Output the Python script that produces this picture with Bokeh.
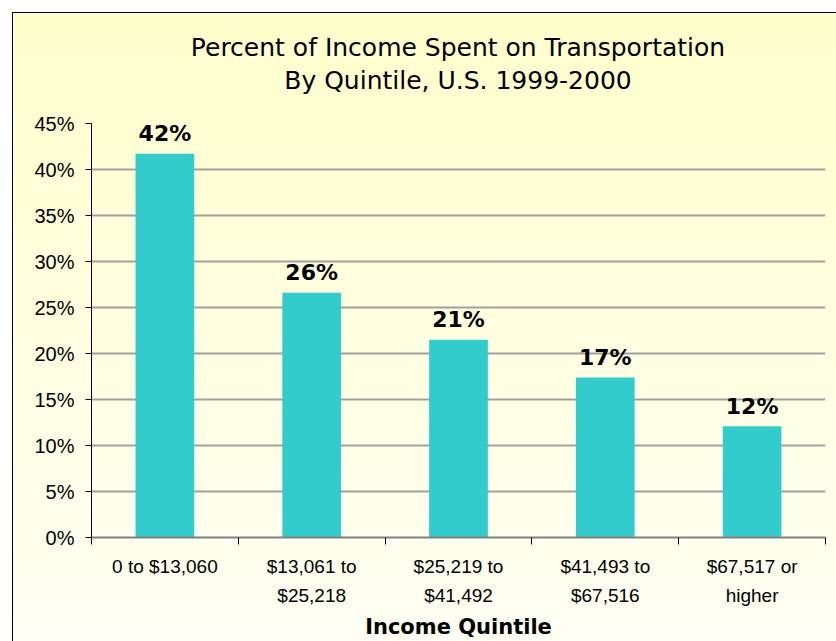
from bokeh.plotting import figure
from bokeh.models import ColumnDataSource, FixedTicker, PrintfTickFormatter, Range1d, Div
from bokeh.layouts import column
from bokeh.embed import file_html
from bokeh.resources import INLINE
from bokeh.core.properties import value

title_lines = ["Percent of Income Spent on Transportation", "By Quintile, U.S. 1999-2000"]
categories = ["0 to $13,060", "$13,061 to\n$25,218", "$25,219 to\n$41,492",
              "$41,493 to\n$67,516", "$67,517 or\nhigher"]
values = [41.7, 26.6, 21.5, 17.4, 12.1]
labels = ["42%", "26%", "21%", "17%", "12%"]
y_ticks = [0, 5, 10, 15, 20, 25, 30, 35, 40, 45]

W = 823
ML, MR, MT, MB = 78, 11, 12, 103
TITLE_H = 98
PH = 628 - TITLE_H

xs = [i + 0.5 for i in range(len(categories))]
src = ColumnDataSource(dict(x=xs, top=values, lab=labels))

title_html = ('<div style="box-sizing:border-box; width:%dpx; padding:18px %dpx 0 %dpx; '
              'text-align:center; font-family:\'DejaVu Sans\'; font-size:25px; '
              'line-height:33px; color:black; white-space:nowrap;">%s</div>'
              % (W, MR, ML, "<br>".join(title_lines)))
title_div = Div(text=title_html, width=W, height=TITLE_H, margin=(0, 0, 0, 0))

p = figure(width=W, height=PH, output_backend="svg", toolbar_location=None,
           x_range=Range1d(0, len(categories)), y_range=Range1d(0, 45),
           min_border_left=ML, min_border_right=MR, min_border_top=MT, min_border_bottom=MB,
           title=None, margin=(0, 0, 0, 0))
p.border_fill_color = None
p.background_fill_color = None
p.outline_line_color = None

p.vbar(x="x", top="top", width=0.4, source=src, fill_color="#33CCCC", line_color=None)
p.text(x="x", y="top", text="lab", source=src, text_align="center", text_baseline="middle",
       y_offset=-20, text_font=value("DejaVu Sans"), text_font_style="bold",
       text_font_size="22px", text_color="black")

# y axis
p.yaxis.ticker = FixedTicker(ticks=y_ticks)
p.yaxis.formatter = PrintfTickFormatter(format="%d%%")
p.yaxis.major_label_text_font = "Liberation Sans"
p.yaxis.major_label_text_font_size = "20px"
p.yaxis.major_label_text_color = "black"
p.yaxis.axis_line_color = "black"
p.yaxis.major_tick_line_color = "black"
p.yaxis.major_tick_out = 6
p.yaxis.major_tick_in = 0
p.yaxis.minor_tick_line_color = None
p.yaxis.major_label_standoff = 11

# x axis
p.xaxis.ticker = FixedTicker(ticks=xs, minor_ticks=list(range(len(categories) + 1)))
p.xaxis.major_label_overrides = {x: c for x, c in zip(xs, categories)}
p.xaxis.major_label_text_font = "Liberation Sans"
p.xaxis.major_label_text_font_size = "19px"
p.xaxis.major_label_text_color = "black"
p.xaxis.major_label_text_line_height = 1.4
p.xaxis.major_tick_line_color = None
p.xaxis.major_tick_out = 0
p.xaxis.major_tick_in = 0
p.xaxis.minor_tick_line_color = "black"
p.xaxis.minor_tick_out = 7
p.xaxis.minor_tick_in = 0
p.xaxis.axis_line_color = "#808080"
p.xaxis.axis_line_width = 2
p.xaxis.major_label_standoff = 11
p.xaxis.axis_label = "Income Quintile"
p.xaxis.axis_label_text_font = "DejaVu Sans"
p.xaxis.axis_label_text_font_style = "bold"
p.xaxis.axis_label_text_font_size = "21px"
p.xaxis.axis_label_text_color = "black"
p.xaxis.axis_label_standoff = 6

p.xgrid.grid_line_color = None
p.ygrid.ticker = FixedTicker(ticks=y_ticks[1:])
p.ygrid.grid_line_color = "#A0A0A0"
p.ygrid.grid_line_width = 2

layout = column(title_div, p, spacing=0)
layout.styles = {"margin-left": "12px", "margin-top": "12px",
                 "border-top": "1px solid black", "border-left": "1px solid black",
                 "background": "linear-gradient(to bottom, #FFFFCC, #FFFFF4)"}

open("out.html", "w").write(file_html(layout, INLINE))
